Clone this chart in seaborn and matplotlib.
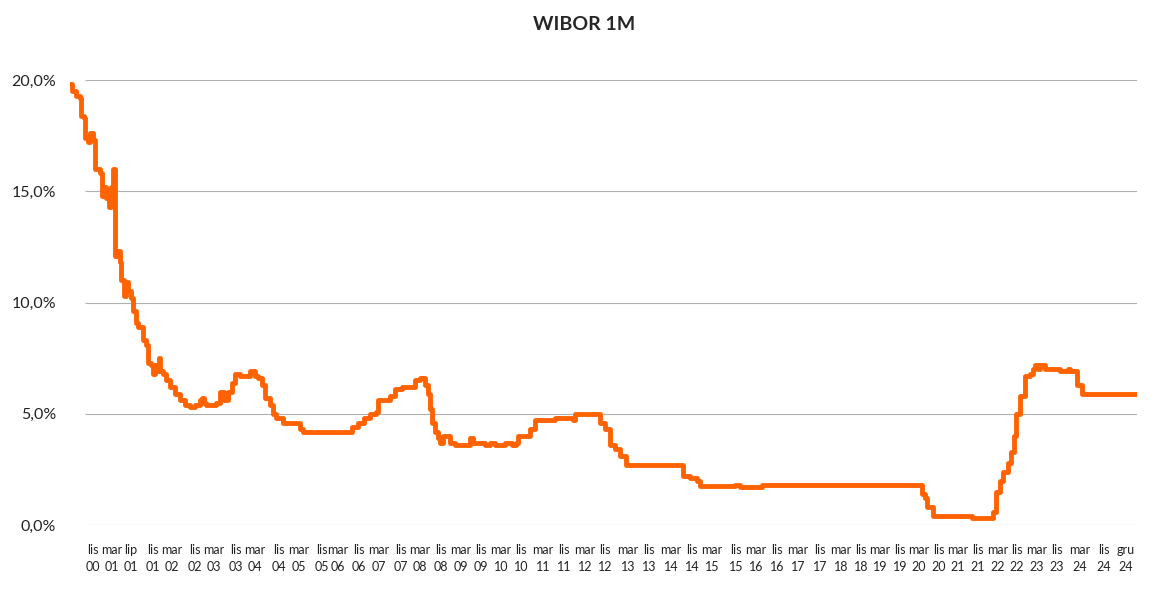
import matplotlib
matplotlib.use('Agg')
import matplotlib.pyplot as plt
import numpy as np
import seaborn as sns

obs = [70, 72, 76, 80, 81, 84, 85, 88, 90, 93, 95, 100, 102, 104, 106, 108, 109, 111, 113, 115,
       118, 120, 121, 124, 126, 128, 131, 133, 136, 138, 140, 143, 146, 148, 151, 153, 155, 157, 159, 160,
       163, 166, 170, 175, 180, 185, 190, 195, 200, 202, 204, 206, 210, 216, 220, 224, 228, 232, 235, 240,
       246, 250, 255, 258, 262, 265, 270, 273, 276, 283, 295, 300, 303, 347, 352, 358, 364, 370, 376, 378,
       385, 390, 395, 402, 410, 415, 420, 425, 428, 430, 432, 435, 438, 440, 443, 446, 450, 455, 468, 470,
       473, 480, 485, 490, 495, 505, 512, 516, 518, 525, 530, 535, 545, 555, 565, 573, 575, 590, 595, 600,
       605, 610, 615, 620, 626, 680, 683, 690, 697, 700, 735, 740, 758, 762, 920, 922, 925, 927, 932, 933,
       968, 972, 990, 993, 996, 1000, 1003, 1008, 1011, 1014, 1016, 1020, 1025, 1030, 1033, 1035, 1038, 1040, 1045, 1060,
       1068, 1070, 1075, 1077, 1082, 1090, 1137]
rate = [19.8, 19.5, 19.3, 19.2, 18.4, 18.3, 17.4, 17.2, 17.6, 17.3, 16.0, 15.8, 14.8, 15.2, 14.7, 15.0, 14.3, 15.2, 16.0, 12.1,
        12.3, 11.8, 11.0, 10.3, 10.9, 10.5, 10.2, 9.6, 9.1, 8.9, 8.9, 8.3, 8.1, 7.3, 7.2, 6.8, 7.2, 6.9, 7.5, 6.9,
        6.8, 6.5, 6.2, 5.9, 5.6, 5.4, 5.3, 5.4, 5.6, 5.7, 5.5, 5.4, 5.4, 5.5, 6.0, 5.6, 6.0, 6.4, 6.8, 6.7,
        6.7, 6.9, 6.7, 6.6, 6.3, 5.7, 5.4, 5.0, 4.8, 4.6, 4.6, 4.3, 4.2, 4.2, 4.4, 4.6, 4.8, 5.0, 5.1, 5.6,
        5.6, 5.8, 6.1, 6.2, 6.2, 6.5, 6.6, 6.3, 5.9, 5.2, 4.6, 4.2, 3.9, 3.7, 4.0, 4.0, 3.7, 3.6, 3.6, 3.9,
        3.7, 3.7, 3.6, 3.7, 3.6, 3.7, 3.6, 3.7, 4.0, 4.0, 4.3, 4.7, 4.7, 4.8, 4.8, 4.7, 5.0, 5.0, 5.0, 4.6,
        4.3, 3.6, 3.4, 3.1, 2.7, 2.7, 2.2, 2.1, 2.0, 1.75, 1.8, 1.7, 1.7, 1.8, 1.8, 1.4, 1.2, 0.8, 0.8, 0.4,
        0.4, 0.3, 0.3, 0.6, 1.5, 2.0, 2.4, 2.8, 3.3, 4.0, 5.0, 5.8, 6.7, 6.8, 7.0, 7.2, 7.0, 7.2, 7.0, 6.9,
        7.0, 6.9, 6.9, 6.3, 5.9, 5.9, 5.9]

tick_pos = [93, 112, 131, 153, 172, 195, 214, 236, 255, 279, 299, 322, 338, 359, 379, 401, 420, 441,
            461, 481, 501, 521, 543, 564, 585, 605, 628, 649, 671, 692, 712, 736, 756, 777, 798, 820,
            841, 861, 880, 900, 919, 939, 958, 978, 998, 1017, 1037, 1057, 1080, 1104, 1126]
tick_labels = ['lis\n00', 'mar\n01', 'lip\n01', 'lis\n01', 'mar\n02', 'lis\n02', 'mar\n03', 'lis\n03',
               'mar\n04', 'lis\n04', 'mar\n05', 'lis\n05', 'mar\n06', 'lis\n06', 'mar\n07', 'lis\n07',
               'mar\n08', 'lis\n08', 'mar\n09', 'lis\n09', 'mar\n10', 'lis\n10', 'mar\n11', 'lis\n11',
               'mar\n12', 'lis\n12', 'mar\n13', 'lis\n13', 'mar\n14', 'lis\n14', 'mar\n15', 'lis\n15',
               'mar\n16', 'lis\n16', 'mar\n17', 'lis\n17', 'mar\n18', 'lis\n18', 'mar\n19', 'lis\n19',
               'mar\n20', 'lis\n20', 'mar\n21', 'lis\n21', 'mar\n22', 'lis\n22', 'mar\n23', 'lis\n23',
               'mar\n24', 'lis\n24', 'gru\n24']

sns.set_style('white')
plt.rcParams['font.family'] = ['Lato', 'DejaVu Sans']

fig = plt.figure(figsize=(11.72, 6.01), dpi=100)
ax = fig.add_axes([70 / 1172, 76 / 601, 1067 / 1172, 445 / 601])

for v in [0, 5, 10, 15, 20]:
    ax.hlines(v, 85, 1137, color='#b0b0b0', lw=0.8, zorder=0)

sns.lineplot(x=obs, y=rate, ax=ax, color='#ff6200', lw=3.5, drawstyle='steps-post')

ax.set_xlim(70, 1137)
ax.set_ylim(0, 20)
ax.set_yticks([0, 5, 10, 15, 20])
ax.set_yticklabels(['0,0%', '5,0%', '10,0%', '15,0%', '20,0%'], fontsize=11.5, color='#222222')
ax.set_xticks(tick_pos)
ax.set_xticklabels(tick_labels, fontsize=9, color='#222222', linespacing=1.5)
ax.tick_params(axis='both', length=0)
ax.tick_params(axis='y', pad=10)
ax.tick_params(axis='x', pad=14)
sns.despine(ax=ax, left=True, bottom=True)
ax.set_xlabel('')
ax.set_ylabel('')

fig.text(584 / 1172, 1 - 25 / 601, 'WIBOR 1M', ha='center', va='center', fontsize=14, fontweight='bold')

fig.savefig('out.png', dpi=100)
